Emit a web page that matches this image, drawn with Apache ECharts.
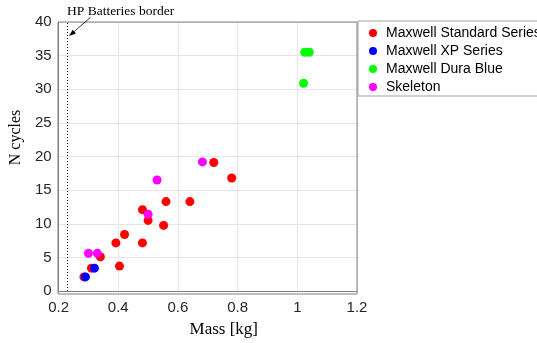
<!DOCTYPE html>
<html>
<head>
<meta charset="utf-8">
<script src="https://cdn.jsdelivr.net/npm/echarts@6/dist/echarts.min.js"></script>
<style>
  html, body { margin: 0; padding: 0; background: #fff; }
  #chart { width: 537px; height: 343px; }
</style>
</head>
<body>
<div id="chart"></div>
<script>
// ── Data ─────────────────────────────────────────────────────────────────────
const standardSeries = [
  [0.285, 2.1], [0.31, 3.4], [0.34, 5.1], [0.404, 3.7], [0.392, 7.15],
  [0.421, 8.4], [0.481, 7.15], [0.481, 12.1], [0.50, 10.5], [0.552, 9.75],
  [0.56, 13.3], [0.64, 13.3], [0.72, 19.1], [0.78, 16.8],
]
const xpSeries = [[0.29, 2.1], [0.32, 3.4]]
const duraBlue = [[1.021, 30.9], [1.025, 35.5], [1.04, 35.5]]
const skeleton = [[0.30, 5.6], [0.33, 5.6], [0.50, 11.4], [0.53, 16.5], [0.682, 19.2]]

const seriesNames = ['Maxwell Standard Series', 'Maxwell XP Series', 'Maxwell Dura Blue', 'Skeleton']
const seriesColors = ['#ff0000', '#0000ff', '#00ff00', '#ff00ff']
const seriesData = [standardSeries, xpSeries, duraBlue, skeleton]

const hpBorderX = 0.234
const arrowFrom = [0.307, 40.7]
const arrowTo = [0.235, 37.9]

const xTicks = { min: 0.2, max: 1.2, interval: 0.2 }
const yTicks = { min: 0, max: 40, interval: 5 }

// ── Chart ─────────────────────────────────────────────────────────────────────
const chart = echarts.init(document.getElementById('chart'))

const tickFont = { fontFamily: 'Liberation Sans', fontSize: 15, color: '#262626' }
const serif = 'Liberation Serif'

const scatterSeries = seriesData.map((data, i) => ({
  type: 'scatter',
  name: seriesNames[i],
  data,
  symbolSize: 9,
  itemStyle: { color: seriesColors[i], opacity: 1 },
  z: 3 + i,
}))

// dotted "HP Batteries border" line on a data-less helper series
scatterSeries.push({
  type: 'scatter',
  name: 'border',
  data: [],
  silent: true,
  markLine: {
    silent: true,
    animation: false,
    symbol: 'none',
    label: { show: false },
    data: [{ xAxis: hpBorderX }],
    lineStyle: { color: '#000', width: 1, type: [1, 2] },
  },
})

const baseGraphic = [
  // top and right frame of the plot box
  {
    type: 'rect',
    shape: { x: 58, y: 22, width: 299, height: 272 },
    style: { fill: 'none', stroke: '#808080', lineWidth: 1 },
    silent: true,
    z: 1,
  },
  {
    type: 'text',
    left: 67,
    top: 4,
    style: { text: 'HP Batteries border', fontFamily: serif, fontSize: 13.5, fill: '#000' },
  },
]

chart.setOption({
  animation: false,
  grid: { left: 58, top: 22, right: 180, bottom: 49 },
  legend: {
    orient: 'vertical',
    left: 358,
    top: 21,
    data: seriesNames,
    icon: 'circle',
    itemWidth: 8,
    itemHeight: 8,
    itemGap: 4,
    padding: [5, 20, 2, 11],
    borderColor: '#a0a0a0',
    borderWidth: 1,
    backgroundColor: '#fff',
    textStyle: { fontFamily: 'Liberation Sans', fontSize: 14, color: '#000', padding: [0, 0, 0, 4] },
  },
  xAxis: {
    type: 'value',
    ...xTicks,
    name: 'Mass [kg]',
    nameLocation: 'middle',
    nameGap: 30,
    nameTextStyle: { fontFamily: serif, fontSize: 17, color: '#000', padding: [0, 0, 0, 32] },
    axisLine: { show: true, onZero: false, lineStyle: { color: '#808080' } },
    axisTick: { show: false },
    axisLabel: { ...tickFont, margin: 9 },
    splitLine: { show: true, lineStyle: { color: '#e6e6e6' } },
  },
  yAxis: {
    type: 'value',
    ...yTicks,
    name: 'N cycles',
    nameLocation: 'middle',
    nameGap: 34,
    nameTextStyle: { fontFamily: serif, fontSize: 16, color: '#000', padding: [0, 0, 0, 38] },
    axisLine: { show: true, onZero: false, lineStyle: { color: '#808080' } },
    axisTick: { show: false },
    axisLabel: { ...tickFont, margin: 7 },
    splitLine: { show: true, lineStyle: { color: '#e6e6e6' } },
  },
  graphic: baseGraphic,
  series: scatterSeries,
})

// annotation arrow, placed through the axes' own scale
const p0 = chart.convertToPixel({ gridIndex: 0 }, arrowFrom)
const p1 = chart.convertToPixel({ gridIndex: 0 }, arrowTo)
const ang = Math.atan2(p1[1] - p0[1], p1[0] - p0[0])
const headLen = 7, headHalf = 2.5
const bx = p1[0] - headLen * Math.cos(ang), by = p1[1] - headLen * Math.sin(ang)
const nx = -Math.sin(ang) * headHalf, ny = Math.cos(ang) * headHalf

chart.setOption({
  graphic: baseGraphic.concat([
    {
      type: 'line',
      shape: { x1: p0[0], y1: p0[1], x2: bx, y2: by },
      style: { stroke: '#000', lineWidth: 0.8 },
      silent: true,
      z: 10,
    },
    {
      type: 'polygon',
      shape: { points: [[p1[0], p1[1]], [bx + nx, by + ny], [bx - nx, by - ny]] },
      style: { fill: '#000' },
      silent: true,
      z: 10,
    },
  ]),
})
</script>
</body>
</html>
